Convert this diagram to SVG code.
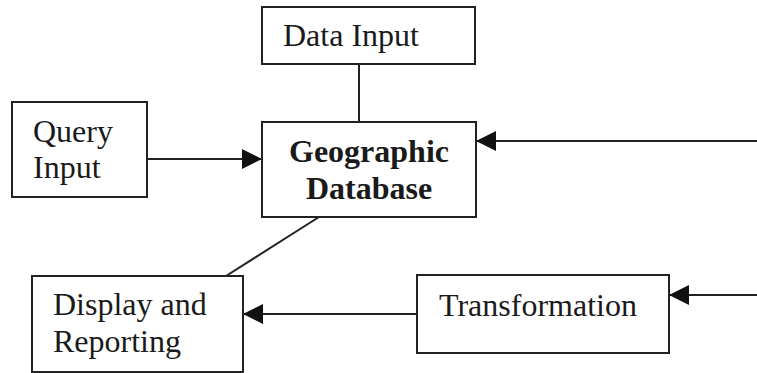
<svg xmlns="http://www.w3.org/2000/svg" width="757" height="373" viewBox="0 0 757 373">
  <defs>
    <marker id="arrow" viewBox="0 0 20 20" refX="20" refY="10" markerWidth="20" markerHeight="20" markerUnits="userSpaceOnUse" orient="auto">
      <path d="M0,0 L20,10 L0,20 Z" fill="#111"/>
    </marker>
  </defs>
  <style>
    .box { fill: #fff; stroke: #222; stroke-width: 2; }
    .lbl { font-family: "Liberation Serif", "Times New Roman", serif; font-size: 32px; fill: #1a1a1a; }
    .bold { font-weight: bold; }
    .edge { stroke: #222; stroke-width: 2; fill: none; }
  </style>
  <rect width="757" height="373" fill="#fff"/>

  <g id="connectors">
    <line class="edge" x1="359" y1="64" x2="359" y2="122"/>
    <line class="edge" x1="147" y1="159" x2="262" y2="159" marker-end="url(#arrow)"/>
    <line class="edge" x1="757" y1="141" x2="476" y2="141" marker-end="url(#arrow)"/>
    <line class="edge" x1="319" y1="217" x2="226" y2="276"/>
    <line class="edge" x1="757" y1="295" x2="669" y2="295" marker-end="url(#arrow)"/>
    <line class="edge" x1="417" y1="314" x2="243" y2="314" marker-end="url(#arrow)"/>
  </g>

  <g id="data-input">
    <rect class="box" x="262" y="7" width="213" height="57"/>
    <text class="lbl" x="283" y="46">Data Input</text>
  </g>

  <g id="query-input">
    <rect class="box" x="12" y="102" width="135" height="95"/>
    <text class="lbl" x="33" y="142">Query</text>
    <text class="lbl" x="33" y="178">Input</text>
  </g>

  <g id="geographic-database">
    <rect class="box" x="262" y="122" width="214" height="95"/>
    <text class="lbl bold" x="369" y="162" text-anchor="middle">Geographic</text>
    <text class="lbl bold" x="369" y="199" text-anchor="middle">Database</text>
  </g>

  <g id="display-reporting">
    <rect class="box" x="32" y="276" width="211" height="96"/>
    <text class="lbl" x="53" y="315">Display and</text>
    <text class="lbl" x="53" y="352">Reporting</text>
  </g>

  <g id="transformation">
    <rect class="box" x="417" y="275" width="252" height="78"/>
    <text class="lbl" x="439" y="316">Transformation</text>
  </g>
</svg>
